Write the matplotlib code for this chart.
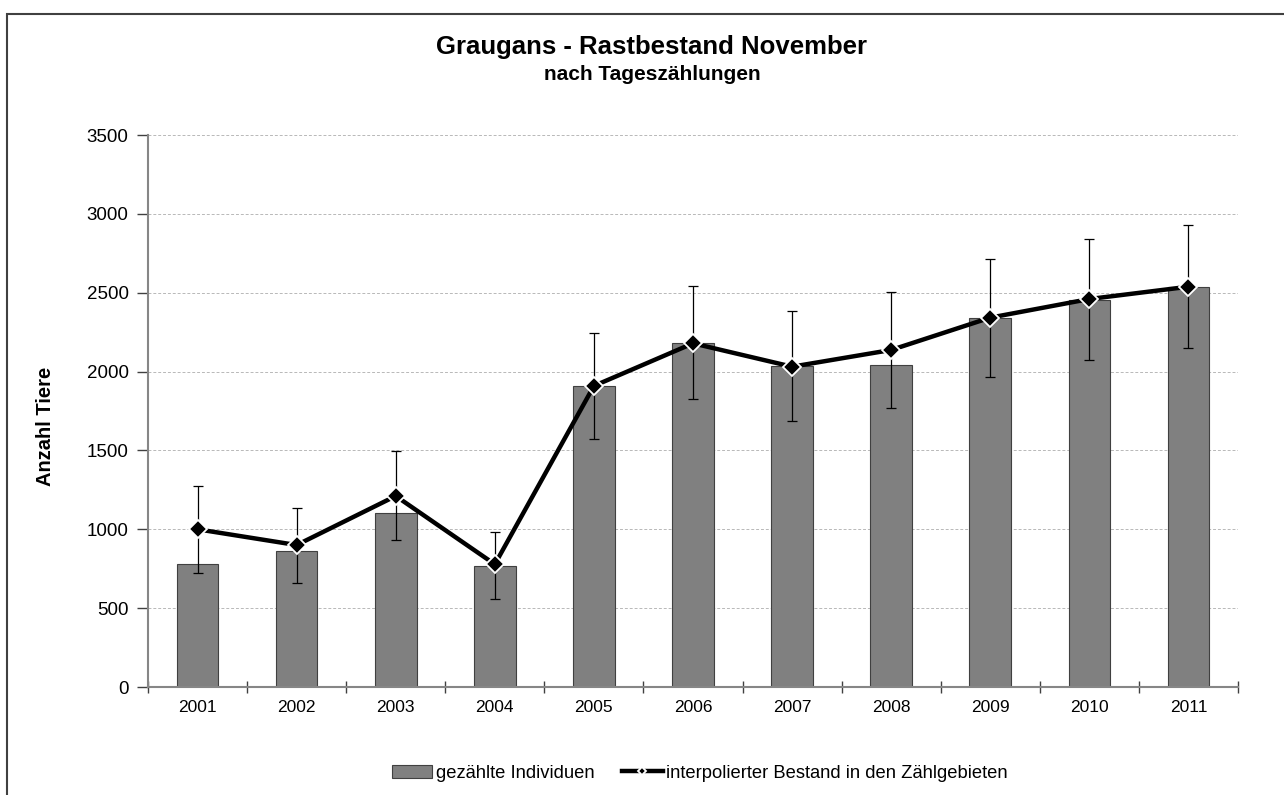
#!/usr/bin/env python

import matplotlib
matplotlib.use("Agg")
import matplotlib.pyplot as plt
import numpy as np
from matplotlib.patches import Rectangle

plt.rcParams["font.family"] = ["Liberation Sans", "DejaVu Sans"]

years = ["2001", "2002", "2003", "2004", "2005", "2006",
         "2007", "2008", "2009", "2010", "2011"]
counted = [780, 860, 1103, 770, 1909, 2179, 2035, 2042, 2342, 2454, 2536]
interpolated = [1000, 900, 1211, 778, 1909, 2179, 2031, 2137, 2342, 2460, 2538]
err_upper = [1275, 1137, 1494, 985, 2247, 2543, 2384, 2503, 2714, 2839, 2928]
err_lower = [721, 661, 932, 556, 1573, 1824, 1685, 1769, 1968, 2074, 2148]

x = np.arange(len(years))
interp = np.array(interpolated)
yerr = [interp - np.array(err_lower), np.array(err_upper) - interp]

fig = plt.figure(figsize=(12.84, 7.95), dpi=100)
ax = fig.add_axes([148 / 1284, 1 - 687 / 795, (1238 - 148) / 1284, (687 - 135) / 795])

# outer frame (only top and left visible in the original)
fig.patches.append(Rectangle((7 / 1284, -0.1), 1.2, 1 - 14 / 795 + 0.1,
                             transform=fig.transFigure, fill=False,
                             edgecolor="#404040", linewidth=1.5))

bars = ax.bar(x, counted, width=0.42, color="#808080", edgecolor="#404040",
              linewidth=0.8, label="gezählte Individuen", zorder=2)
ax.errorbar(x, interp, yerr=yerr, fmt="none", ecolor="black",
            elinewidth=0.9, capsize=3.5, capthick=0.9, zorder=3)
line, = ax.plot(x, interp, color="black", linewidth=3.2, marker="D", markersize=9,
                markerfacecolor="black", markeredgecolor="white", markeredgewidth=1.3,
                label="interpolierter Bestand in den Zählgebieten", zorder=4)

ax.set_xlim(-0.5, len(years) - 0.5)
ax.set_ylim(0, 3500)
ax.set_yticks(np.arange(0, 3501, 500))
ax.set_xticks(x)
ax.set_xticklabels(years)
ax.set_xticks(np.arange(-0.5, len(years), 1), minor=True)
ax.tick_params(axis="x", which="major", length=0, pad=9, labelsize=12.5)
ax.tick_params(axis="x", which="minor", direction="inout", length=9,
               color="#404040", width=1)
ax.tick_params(axis="y", direction="out", length=8, color="#404040",
               width=1, labelsize=13.5, pad=6)

for s in ["top", "right"]:
    ax.spines[s].set_visible(False)
for s in ["left", "bottom"]:
    ax.spines[s].set_color("#868686")
    ax.spines[s].set_linewidth(1.5)

ax.grid(axis="y", linestyle=(0, (3, 2)), color="#b8b8b8", linewidth=0.7, zorder=0)
ax.set_axisbelow(True)

fig.text(651 / 1284, 1 - 47 / 795, "Graugans - Rastbestand November",
         ha="center", va="center", fontsize=18.5, fontweight="bold")
fig.text(652 / 1284, 1 - 74 / 795, "nach Tageszählungen",
         ha="center", va="center", fontsize=15, fontweight="bold")
fig.text(46 / 1284, 1 - 426 / 795, "Anzahl Tiere", rotation=90,
         ha="center", va="center", fontsize=14.5, fontweight="bold")

fig.legend([bars, line], [bars.get_label(), line.get_label()], loc="center",
           bbox_to_anchor=(700 / 1284, 1 - 773 / 795),
           ncol=2, frameon=False, fontsize=13.2, handlelength=2.2,
           handletextpad=0.2, columnspacing=1.5, markerscale=0.5)

plt.savefig("out.png", dpi=100)
